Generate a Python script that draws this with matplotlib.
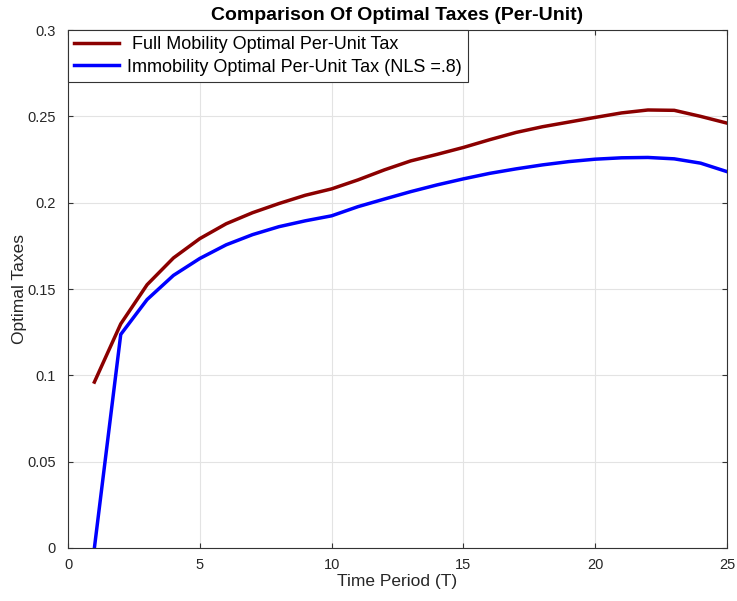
import numpy as np
from matplotlib import pyplot as plt

plt.rcParams['font.family'] = ['Liberation Sans', 'DejaVu Sans']

T = list(range(1, 26))
full_mobility = [0.0961, 0.1298, 0.1525, 0.168, 0.1792, 0.1878, 0.1942, 0.1995, 0.2043,
                 0.208, 0.2132, 0.219, 0.2242, 0.228, 0.232, 0.2365, 0.2407, 0.244,
                 0.2467, 0.2494, 0.252, 0.2537, 0.2535, 0.250, 0.2461]
immobility = [0.0, 0.1237, 0.1439, 0.1579, 0.1677, 0.1756, 0.1815, 0.1861, 0.1895,
              0.1924, 0.1977, 0.2021, 0.2064, 0.2103, 0.2138, 0.217, 0.2196, 0.2219,
              0.2238, 0.2252, 0.226, 0.2262, 0.2254, 0.2229, 0.218]

fig = plt.figure(figsize=(7.37, 6.01), dpi=100)
ax = fig.add_axes([0.0923, 0.0882, 0.8941, 0.8618])

ax.plot(T, full_mobility, color='#8B0000', linewidth=2.5, label=' Full Mobility Optimal Per-Unit Tax')
ax.plot(T, immobility, color='#0000FF', linewidth=2.5, label='Immobility Optimal Per-Unit Tax (NLS =.8)')

ax.set_xlim(0, 25)
ax.set_ylim(0, 0.3)
ax.set_xticks([0, 5, 10, 15, 20, 25])
ax.set_yticks([0, 0.05, 0.1, 0.15, 0.2, 0.25, 0.3])
ax.set_yticklabels(['0', '0.05', '0.1', '0.15', '0.2', '0.25', '0.3'])
ax.grid(True, color='#e3e3e3', linewidth=0.8)
ax.tick_params(direction='in', top=True, right=True, labelsize=10.5, length=3.5,
               color='#333333', labelcolor='#262626')
ax.tick_params(axis='x', pad=7)
ax.tick_params(axis='y', pad=9)
for s in ax.spines.values():
    s.set_color('#333333')
    s.set_linewidth(0.8)

ax.set_xlabel('Time Period (T)', fontsize=12.5, color='#262626', labelpad=2)
ax.set_ylabel('Optimal Taxes', fontsize=12.5, color='#262626', labelpad=0)
ax.set_title('Comparison Of Optimal Taxes (Per-Unit)', fontsize=14, fontweight='bold', pad=7)

leg = ax.legend(loc='upper left', fontsize=13, fancybox=False, framealpha=1,
                edgecolor='#333333', borderpad=0.35, labelspacing=0.3,
                handlelength=2.5, handletextpad=0.4, borderaxespad=0)
leg.get_frame().set_linewidth(0.8)

plt.savefig('out.png', dpi=100)
